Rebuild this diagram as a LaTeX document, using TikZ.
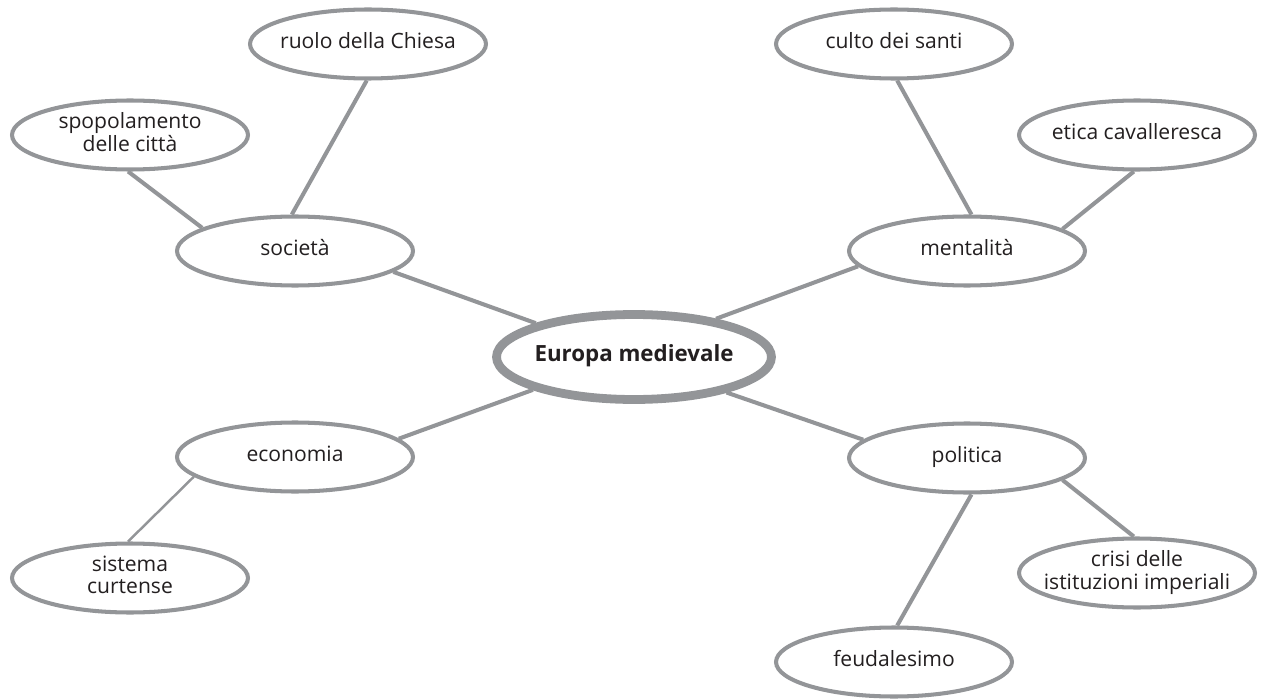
\documentclass[tikz,border=0pt]{standalone}
\usepackage{fontspec}
\setmainfont{Open Sans}
\usepackage[dvipsnames]{xcolor}
\usetikzlibrary{shapes.geometric}

\definecolor{rimgray}{HTML}{939598}
\definecolor{inkblack}{HTML}{231F20}
\newcommand{\bubbletext}[1]{\makebox[0pt]{\begin{tabular}{@{}c@{}}#1\end{tabular}}}

\begin{document}
\begin{tikzpicture}[x=0.02cm,y=-0.02cm,-,thick,
    topic node/.style={ellipse,draw=rimgray,line width=2.3pt,fill=white,minimum width=4.72cm,minimum height=1.38cm,inner sep=0pt,text=inkblack,font=\fontsize{12}{12.8}\selectfont},
    main node/.style={ellipse,draw=rimgray,line width=5pt,fill=white,minimum width=5.5cm,minimum height=1.7cm,inner sep=0pt,text=inkblack,font=\fontsize{12.7}{14}\selectfont\bfseries},
    link/.style={draw=rimgray,line width=2.3pt}]

            \useasboundingbox (0,0) rectangle (1264,699);

            \node[main node]  (eu) at (634,357) {\bubbletext{Europa medievale}};

            \node[topic node]  (soc) at (295,251) {\bubbletext{società}};
            \node[topic node]  (ment) at (967,251) {\bubbletext{mentalità}};
            \node[topic node]  (econ) at (295,457) {\bubbletext{economia}};
            \node[topic node]  (pol) at (967,458) {\bubbletext{politica}};

            \node[topic node]  (ruolo) at (368,44) {\bubbletext{ruolo della Chiesa}};
            \node[topic node]  (spop) at (130,135) {\bubbletext{spopolamento\\delle città}};
            \node[topic node]  (culto) at (894,44) {\bubbletext{culto dei santi}};
            \node[topic node]  (etica) at (1137,135) {\bubbletext{etica cavalleresca}};
            \node[topic node]  (sist) at (130,578) {\bubbletext{sistema\\curtense}};
            \node[topic node]  (crisi) at (1137,573) {\bubbletext{crisi delle\\istituzioni imperiali}};
            \node[topic node]  (feud) at (894,662) {\bubbletext{feudalesimo}};

            % centro
            \draw[link] (soc.-12) to (eu.161);
            \draw[link] (ment.188) to (eu.25);
            \draw[link] (econ.10) to (eu.198);
            \draw[link] (pol.170) to (eu.-21);

            \draw[link] (spop.-93) to (soc.166);
            \draw[link] (ruolo.-92) to (soc.95);
            \draw[link] (culto.-85) to (ment.83);
            \draw[link] (etica.-95) to (ment.13);
            \draw[link] (pol.-13) to (crisi.95);
            \draw[link] (pol.-83) to (feud.85);
            \draw[link, line width=1.4pt] (econ.191) to (sist.93);

            ;
        \end{tikzpicture}
\end{document}
